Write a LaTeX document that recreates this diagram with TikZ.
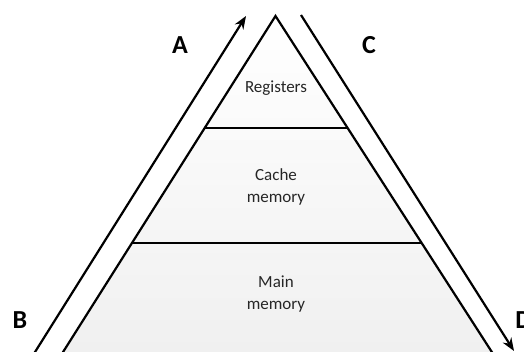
\documentclass[tikz,border=0pt]{standalone}
\usepackage{fontspec}
\setmainfont{Carlito}
\usetikzlibrary{arrows.meta,calc}

\tikzset{
	level/.style={align=center,font=\fontsize{17}{21.5}\selectfont,text=black!85},
	side/.style={font=\fontsize{26}{30}\selectfont\bfseries},
	flow/.style={line width=2.2pt,-{Stealth[length=13pt,width=10pt]}}
}

\begin{document}
\begin{tikzpicture}[x=1pt,y=-1pt,line width=2.2pt]
	\useasboundingbox (0,0) rectangle (524,352);
	\clip (0,0) rectangle (524,352);
	\coordinate (top) at (275.5,16);
	\coordinate (bl) at (58,360);
	\coordinate (br) at (497,360);
	\shade[top color=white,bottom color=black!6]
		(top) -- (br) -- (bl) -- cycle;
	\draw[line join=miter] (bl) -- (top) -- (br);
	\draw ($(top)!0.3256!(bl)$) -- ($(top)!0.3256!(br)$);
	\draw ($(top)!0.66!(bl)$) -- ($(top)!0.66!(br)$);
	\node[level] (reg) at (276,88) {Registers};
	\node[level] (cache) at (276,187) {Cache\\memory};
	\node[level] (main) at (276,294) {Main\\memory};
	% arrows beside the pyramid
	\coordinate (up0) at (30,360);
	\coordinate (up1) at (246,16);
	\coordinate (dn0) at (301,15);
	\coordinate (dn1) at (514,351);
	\draw[flow] (up0) -- (up1);
	\draw[flow] (dn0) -- (dn1);
	\node[side] (A) at (180,45) {A};
	\node[side] (B) at (20,320) {B};
	\node[side] (C) at (369,45) {C};
	\node[side,anchor=west] (D) at (511,320) {D};
\end{tikzpicture}
\end{document}
